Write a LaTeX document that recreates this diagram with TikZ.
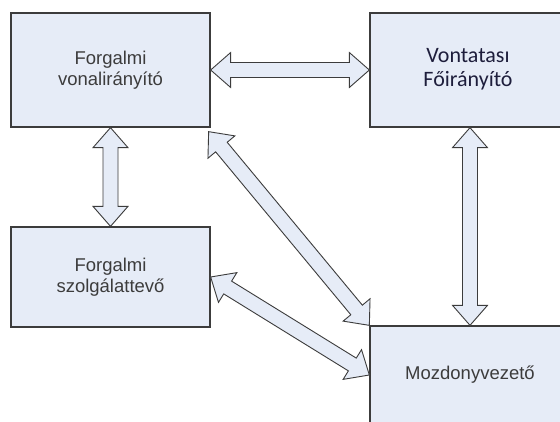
\documentclass[tikz,border=0pt]{standalone}
\usepackage{fontspec}
\setmainfont{Liberation Sans}
\newfontfamily\calibri{Carlito}
\usetikzlibrary{calc}
\definecolor{boxfill}{RGB}{230,236,247}
\definecolor{boxline}{RGB}{60,60,60}
\definecolor{txtgray}{RGB}{60,60,60}
\definecolor{txtdark}{RGB}{30,30,60}
\tikzset{
  box/.style={draw=boxline, fill=boxfill, line width=1.3pt, inner sep=0pt, align=center,
    text=txtgray, font=\fontsize{18.5}{20.5}\selectfont},
  blockarrow/.style={draw=boxline, fill=boxfill, line width=0.9pt, line join=miter}
}
\newcommand{\dblarrow}[2]{%
  \coordinate (ha) at ($(#1)!20pt!(#2)$);
  \coordinate (hb) at ($(#2)!20pt!(#1)$);
  \draw[blockarrow] (#1)
    -- ($(ha)!17.5pt!90:(hb)$) -- ($(ha)!7.5pt!90:(hb)$)
    -- ($(hb)!7.5pt!-90:(ha)$) -- ($(hb)!17.5pt!-90:(ha)$)
    -- (#2)
    -- ($(hb)!17.5pt!90:(ha)$) -- ($(hb)!7.5pt!90:(ha)$)
    -- ($(ha)!7.5pt!-90:(hb)$) -- ($(ha)!17.5pt!-90:(hb)$)
    -- cycle;}
\begin{document}
\begin{tikzpicture}[x=1pt,y=-1pt]
\useasboundingbox (0,0) rectangle (560,421);
\clip (0,0) rectangle (560,421);
\fill[white] (0,0) rectangle (560,421);
\node[box, minimum width=199pt, minimum height=114pt] (fv) at (110.5,70) {Forgalmi\\vonalirányító};
\node[box, minimum width=196pt, minimum height=114pt, text=txtdark,
  font=\calibri\fontsize{22}{24}\selectfont] (vf) at (468,70) {\raisebox{9pt}{\begin{tabular}{@{}c@{}}Vontatası\\Főirányító\end{tabular}}};
\node[box, minimum width=199pt, minimum height=100pt] (fs) at (110.5,277) {Forgalmi\\szolgálattevő};
\node[box, minimum width=200pt, minimum height=98pt] (mv) at (470,375) {Mozdonyvezető};
\coordinate (a3s) at ($(vf.south)+(2,0)$);
\coordinate (a3e) at (mv.north);
\coordinate (a4s) at ($(fv.south east)+(-2,4)$);
\dblarrow{fv.east}{vf.west}
\dblarrow{fv.south}{fs.north}
\dblarrow{a3s}{a3e}
\dblarrow{a4s}{mv.north west}
\dblarrow{fs.east}{mv.west}
\end{tikzpicture}
\end{document}
